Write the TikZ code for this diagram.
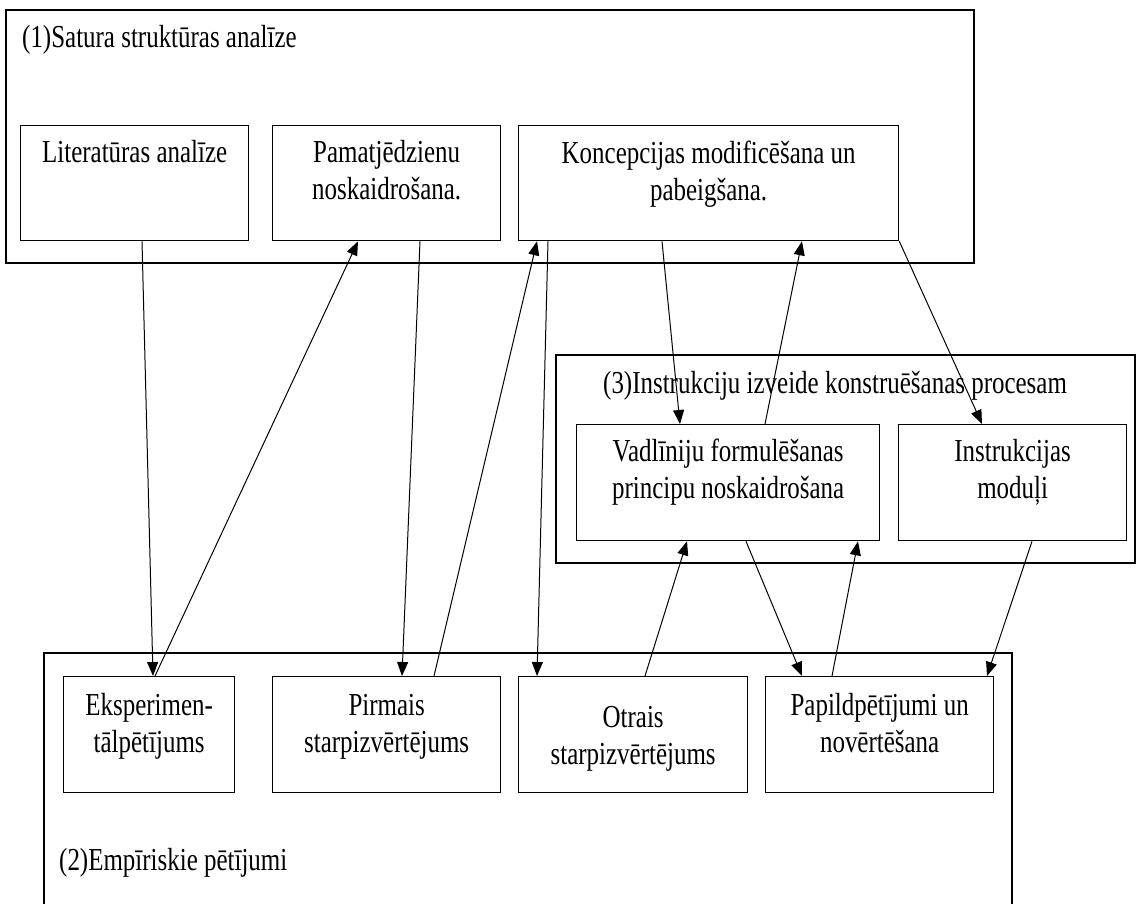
\documentclass[tikz,border=0pt]{standalone}
\usepackage{fontspec}
\setmainfont{Liberation Serif}[FakeStretch=0.78]
\usetikzlibrary{arrows.meta}
\setlength{\parindent}{0pt}

% top-aligned, centred box contents: width, height, first-line offset, text
\newcommand{\boxtext}[4]{\parbox[t][#2][t]{#1}{\centering\rule{0pt}{#3}#4}}

\begin{document}
\begin{tikzpicture}[x=1pt,y=-1pt,
  every node/.style={font=\fontsize{32pt}{37pt}\selectfont},
  box/.style={draw, line width=1.3pt, inner sep=0pt, anchor=north west, fill=white},
  group/.style={draw, line width=1.3pt},
  title/.style={anchor=base west, inner sep=0pt},
  arr/.style={-{Triangle[length=14pt,width=11pt]}, line width=1pt}]
\useasboundingbox (0,0) rectangle (1136,903);

% group frames
\draw[group] (6,10) rectangle (974,263);
\draw[group] (556,355) rectangle (1135,563);
\draw[group] (44,910) -- (44,653) -- (1012,653) -- (1012,910);

% group titles
\node[title] (t1) at (22,47) {(1)Satura struktūras analīze};
\node[title] (t2) at (59,870) {(2)Empīriskie pētījumi};
\node[title] (t3) at (603,393) {(3)Instrukciju izveide konstruēšanas procesam};

% top row
\node[box] (lit) at (20,125) {\boxtext{228pt}{115pt}{37pt}{Literatūras analīze}};
\node[box] (pam) at (272,125) {\boxtext{228pt}{115pt}{37pt}{Pamatjēdzienu\\ noskaidrošana.}};
\node[box] (kon) at (518,125) {\boxtext{380pt}{115pt}{38pt}{Koncepcijas modificēšana un\\ pabeigšana.}};

% middle row
\node[box] (vad) at (576,424) {\boxtext{303pt}{116pt}{37pt}{Vadlīniju formulēšanas\\ principu noskaidrošana}};
\node[box] (ins) at (898,424) {\boxtext{228pt}{116pt}{37pt}{Instrukcijas\\ moduļi}};

% bottom row
\node[box] (eks) at (63,676) {\boxtext{171pt}{116pt}{39pt}{Eksperimen-\\ tālpētījums}};
\node[box] (pir) at (272,676) {\boxtext{228pt}{116pt}{39pt}{Pirmais\\ starpizvērtējums}};
\node[box] (otr) at (518,676) {\boxtext{229pt}{116pt}{51pt}{Otrais\\ starpizvērtējums}};
\node[box] (pap) at (765,676) {\boxtext{228pt}{116pt}{39pt}{Papildpētījumi un\\ novērtēšana}};

% connectors
\draw[arr] ([xshift=122pt]lit.south west) -- ([xshift=90pt]eks.north west);
\draw[arr] ([xshift=92pt]eks.north west) -- ([xshift=86pt]pam.south west);
\draw[arr] ([xshift=148pt]pam.south west) -- ([xshift=130pt]pir.north west);
\draw[arr] ([xshift=162pt]pir.north west) -- ([xshift=19pt]kon.south west);
\draw[arr] ([xshift=30pt]kon.south west) -- ([xshift=19pt]otr.north west);
\draw[arr] ([xshift=144pt]kon.south west) -- ([xshift=104pt]vad.north west);
\draw[arr] ([xshift=189pt]vad.north west) -- ([xshift=284pt]kon.south west);
\draw[arr] (kon.south east) -- ([xshift=84pt]ins.north west);
\draw[arr] ([xshift=127pt]otr.north west) -- ([xshift=111pt]vad.south west);
\draw[arr] ([xshift=170pt]vad.south west) -- ([xshift=37pt]pap.north west);
\draw[arr] ([xshift=67pt]pap.north west) -- ([xshift=282pt]vad.south west);
\draw[arr] ([xshift=134pt]ins.south west) -- ([xshift=222pt]pap.north west);
\end{tikzpicture}
\end{document}
